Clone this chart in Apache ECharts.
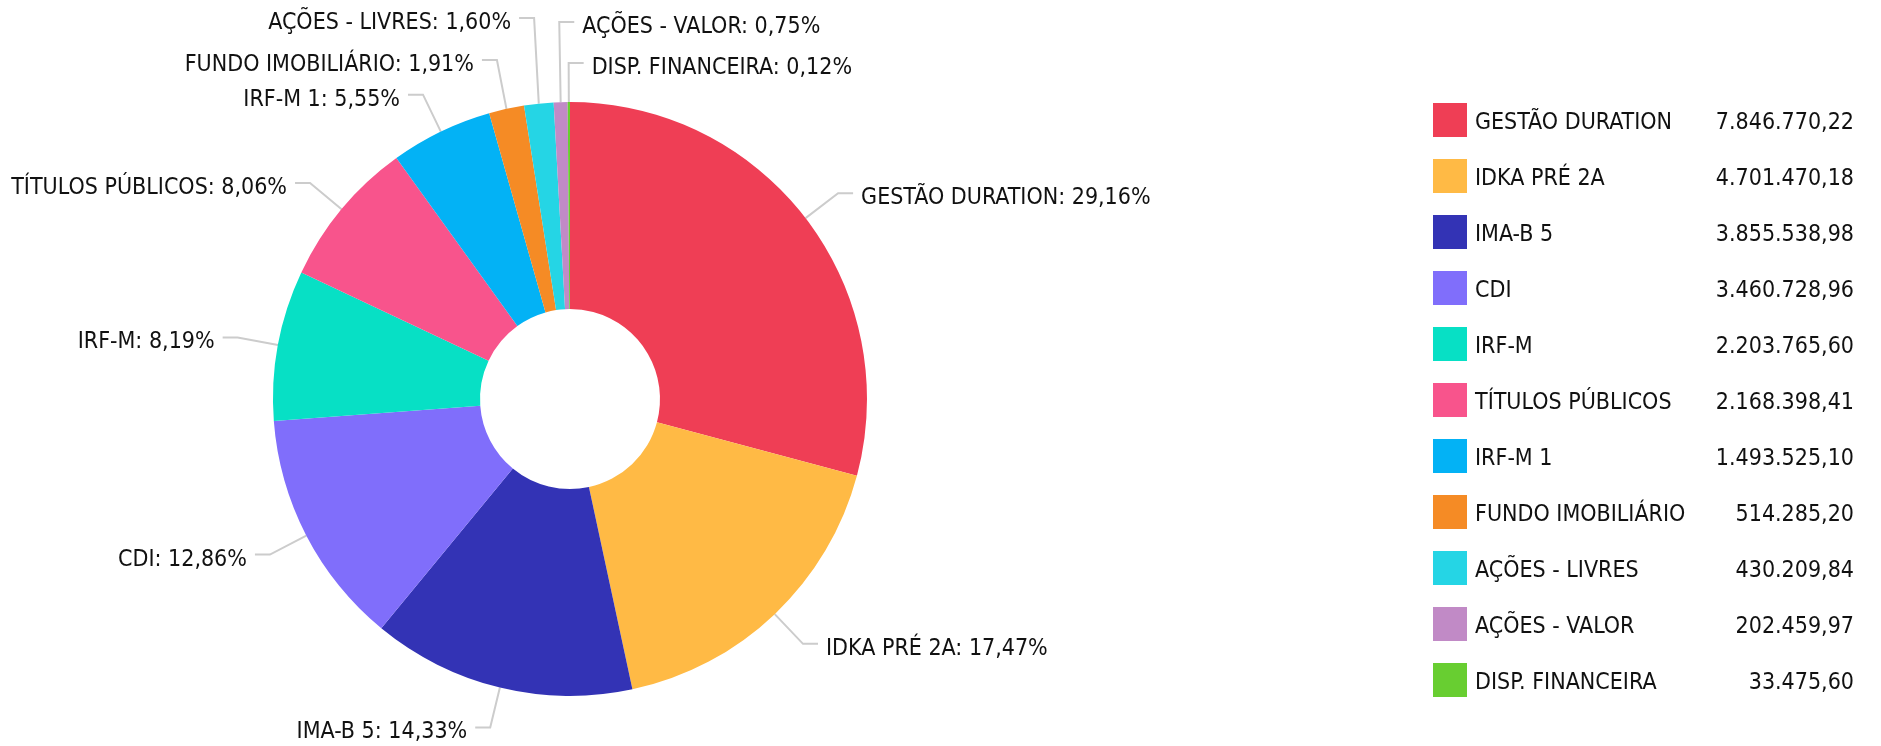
<!DOCTYPE html>
<html>
<head>
<meta charset="utf-8">
<script src="https://cdn.jsdelivr.net/npm/echarts@6/dist/echarts.min.js"></script>
<style>
  html, body { margin: 0; padding: 0; background: #fff; }
  #main { width: 1881px; height: 746px; }
</style>
</head>
<body>
<div id="main"></div>
<script>
var categories = ['GESTÃO DURATION', 'IDKA PRÉ 2A', 'IMA-B 5', 'CDI', 'IRF-M', 'TÍTULOS PÚBLICOS',
  'IRF-M 1', 'FUNDO IMOBILIÁRIO', 'AÇÕES - LIVRES', 'AÇÕES - VALOR', 'DISP. FINANCEIRA'];
var values = [7846770.22, 4701470.18, 3855538.98, 3460728.96, 2203765.60, 2168398.41,
  1493525.10, 514285.20, 430209.84, 202459.97, 33475.60];
var colors = ['#ef3e55', '#ffba45', '#3333b5', '#806efb', '#07e0c5', '#f8548c',
  '#03b2f5', '#f58b25', '#25d5e5', '#c18ac6', '#68ce31'];

var font = '"DejaVu Sans Condensed", "DejaVu Sans", sans-serif';
var cx = 570, cy = 399;
var textDrop = 5; // text sits a bit below its leader line

// small slices at the top: labels stacked by hand (side and line height)
var topLabels = {
  7: { side: 'left', y: 60 },
  8: { side: 'left', y: 18 },
  9: { side: 'right', y: 22 },
  10: { side: 'right', y: 63 }
};

// 7846770.22 -> 7.846.770,22
function brl(v) {
  var parts = v.toFixed(2).split('.');
  var s = parts[0].replace(/\B(?=(\d{3})+(?!\d))/g, '.');
  return s + ',' + parts[1];
}

var data = [];
for (var i = 0; i < categories.length; i++) {
  data.push({ name: categories[i], value: values[i] });
}

var chart = echarts.init(document.getElementById('main'));
var option = {
  color: colors,
  animation: false,
  textStyle: { fontFamily: font },
  legend: {
    orient: 'vertical',
    left: 1433,
    top: 103,
    padding: 0,
    itemWidth: 34,
    itemHeight: 34,
    itemGap: 22,
    icon: 'rect',
    data: categories,
    formatter: function (name) {
      var idx = categories.indexOf(name);
      return '{n|' + name + '}{v|' + brl(values[idx]) + '}';
    },
    textStyle: {
      fontFamily: font,
      rich: {
        n: { width: 230, fontSize: 23, color: '#111', fontFamily: font, padding: [7, 0, 0, 3] },
        v: { width: 149, align: 'right', fontSize: 23, color: '#111', fontFamily: font, padding: [7, 0, 0, 0] }
      }
    }
  },
  series: [
    {
      type: 'pie',
      center: [cx, cy],
      radius: [90, 297],
      startAngle: 90,
      avoidLabelOverlap: false,
      data: data,
      label: {
        fontFamily: font,
        fontSize: 23,
        color: '#111',
        distanceToLabelLine: 8,
        formatter: function (p) {
          return p.name + ': ' + p.percent.toFixed(2).replace('.', ',') + '%';
        }
      },
      labelLine: {
        length: 41,
        length2: 15,
        lineStyle: { color: '#cccccc', width: 2 }
      },
      labelLayout: function (params) {
        var t = topLabels[params.dataIndex];
        if (!t || !params.labelLinePoints) return { dy: textDrop };
        var p0 = params.labelLinePoints[0];
        var bx = p0[0] + (p0[0] - cx) * 0.15;
        var dir = t.side === 'right' ? 1 : -1;
        var ex = bx + dir * 15;
        return {
          x: ex + dir * 8,
          y: t.y + textDrop,
          align: t.side === 'right' ? 'left' : 'right',
          verticalAlign: 'middle',
          labelLinePoints: [p0, [bx, t.y], [ex, t.y]]
        };
      },
      emphasis: { disabled: true }
    }
  ]
};
chart.setOption(option);
</script>
</body>
</html>
